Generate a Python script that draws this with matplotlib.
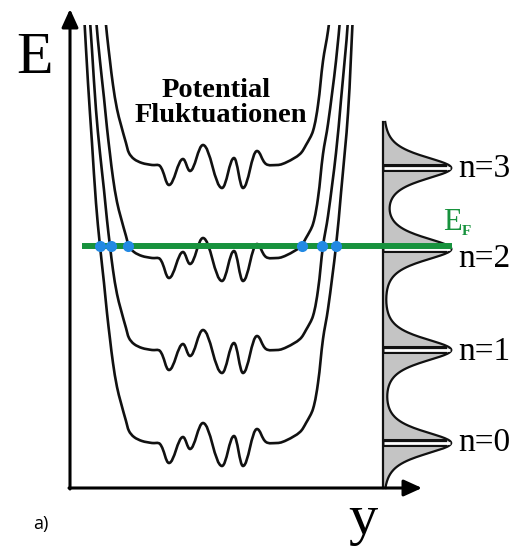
import numpy as np
import matplotlib.pyplot as plt
from matplotlib.path import Path
from matplotlib.patches import PathPatch, Rectangle

# --- data (position y, energy E; origin at the axis corner) ---
level_E = [45, 138, 230, 323]          # bottom of the potential for n = 0..3
dos_peak_E = [45, 138, 239, 320]       # Landau level peaks in the DOS
n_labels = ["n=0", "n=1", "n=2", "n=3"]
n_label_E = [37, 128, 221, 311]
fermi_E = 242
fermi_cross_y = [30, 41, 58, 232, 252, 266]

# left wall of the potential: height above the level -> position
wall_left_dy = [430, 360, 300, 240, 197, 160, 130, 104, 80, 56, 40, 22, 12, 6, 2, 0]
wall_left_y = [14, 18, 22, 26, 30, 34, 37, 40, 43, 47, 51, 56, 59, 64, 72, 82]

# fluctuations at the bottom
fluct_y = [90, 99, 113, 120, 133, 152, 164, 173, 187, 196, 207]
fluct_dy = [-1, -20, 6, -6, 20, -23, 7, -23, 14, 1, 0]

# right wall
wall_right_y = [217, 230, 236, 243, 248, 253, 258, 266, 271, 278, 283]
wall_right_dy = [3, 11, 20, 34, 60, 104, 134, 197, 250, 330, 430]


def smooth_path(xs, ys):
    # cubic bezier through the points, flat tangents at extrema
    pts = np.column_stack([xs, ys]).astype(float)
    n = len(pts)
    tang = np.zeros_like(pts)
    flat = np.zeros(n, dtype=bool)
    for i in range(n):
        d = pts[min(i + 1, n - 1)] - pts[max(i - 1, 0)]
        if 0 < i < n - 1 and (pts[i, 1] - pts[i - 1, 1]) * (pts[i + 1, 1] - pts[i, 1]) <= 0:
            d = np.array([d[0], 0.0])
            flat[i] = True
        tang[i] = d / np.hypot(*d)
    verts = [pts[0]]
    codes = [Path.MOVETO]
    for i in range(n - 1):
        seg = pts[i + 1] - pts[i]
        chord = np.hypot(*seg) / 3
        la = abs(seg[0]) * 0.38 if flat[i] else chord
        lb = abs(seg[0]) * 0.38 if flat[i + 1] else chord
        verts += [pts[i] + tang[i] * la, pts[i + 1] - tang[i + 1] * lb, pts[i + 1]]
        codes += [Path.CURVE4] * 3
    return Path(verts, codes)


fig = plt.figure(figsize=(5.17, 5.48), dpi=100)
ax = fig.add_axes([0, 0, 1, 1])
ax.set_xlim(-70, 447)
ax.set_ylim(-60, 488)
ax.axis('off')

prof_y = wall_left_y + fluct_y + wall_right_y
prof_dy = wall_left_dy + fluct_dy + wall_right_dy
clip = Rectangle((-70, -60), 517, 523, transform=ax.transData)

# --- potential curves ---
for base in level_E:
    p = smooth_path(prof_y, [base + d for d in prof_dy])
    patch = PathPatch(p, fill=False, lw=1.9, edgecolor='#111111', capstyle='round',
                      joinstyle='round', zorder=3)
    ax.add_patch(patch)
    patch.set_clip_path(clip)

# --- axes arrows ---
arrow = dict(arrowstyle='-|>,head_length=0.55,head_width=0.25', lw=2.2, color='k',
             shrinkA=0, shrinkB=0, mutation_scale=20)
ax.annotate('', xy=(0, 479), xytext=(0, -1), arrowprops=arrow)
ax.annotate('', xy=(352, 0), xytext=(-1, 0), arrowprops=arrow)

# --- density of states ---
dos_base = 313
E = np.linspace(0, 366, 500)
dos = np.zeros_like(E)
for pk in dos_peak_E:
    dos += 1 / (1 + ((E - pk) / 21.5) ** 2) ** 2
dos_x = dos_base + 68 * dos
ax.fill_betweenx(E, dos_base, dos_x, color='#c4c4c4', lw=0, zorder=1)
ax.plot(dos_x, E, color='#111111', lw=1.6, zorder=2)
ax.plot([dos_base, dos_base], [0, 366], color='#111111', lw=1.6, zorder=2)
for pk in dos_peak_E:
    ax.plot([dos_base, 377], [pk, pk], color='#111111', lw=5.8, solid_capstyle='butt', zorder=3)
    ax.plot([dos_base + 1, 380], [pk, pk], color='white', lw=2.0, solid_capstyle='butt', zorder=4)
for lab, e in zip(n_labels, n_label_E):
    ax.text(388, e, lab, fontsize=24, family='Liberation Serif', va='baseline', ha='left')

# --- Fermi level ---
green = '#17923d'
ax.plot([12, 382], [fermi_E, fermi_E], color=green, lw=4.3, solid_capstyle='butt', zorder=5)
ax.plot(fermi_cross_y, [fermi_E] * len(fermi_cross_y), 'o', color='#2289e3', ms=8, mec='none', zorder=6)
ax.text(373, 258, 'E', fontsize=22, color=green, family='Liberation Serif', va='baseline', ha='left')
ax.text(392, 253, 'F', fontsize=11, color=green, family='Liberation Serif', weight='bold',
        va='baseline', ha='left')

# --- labels ---
ax.text(-35, 415, 'E', fontsize=43, family='Liberation Serif', va='baseline', ha='center')
ax.text(293, -46, 'y', fontsize=42, family='Liberation Serif', va='baseline', ha='center')
ax.text(-37, -41, 'a)', fontsize=13, family='Open Sans', va='baseline', ha='left')
ax.text(146, 391, 'Potential', fontsize=20.5, family='Liberation Serif', weight='bold',
        va='baseline', ha='center')
ax.text(151, 366, 'Fluktuationen', fontsize=20.5, family='Liberation Serif', weight='bold',
        va='baseline', ha='center')

fig.savefig('out.png', dpi=100)
